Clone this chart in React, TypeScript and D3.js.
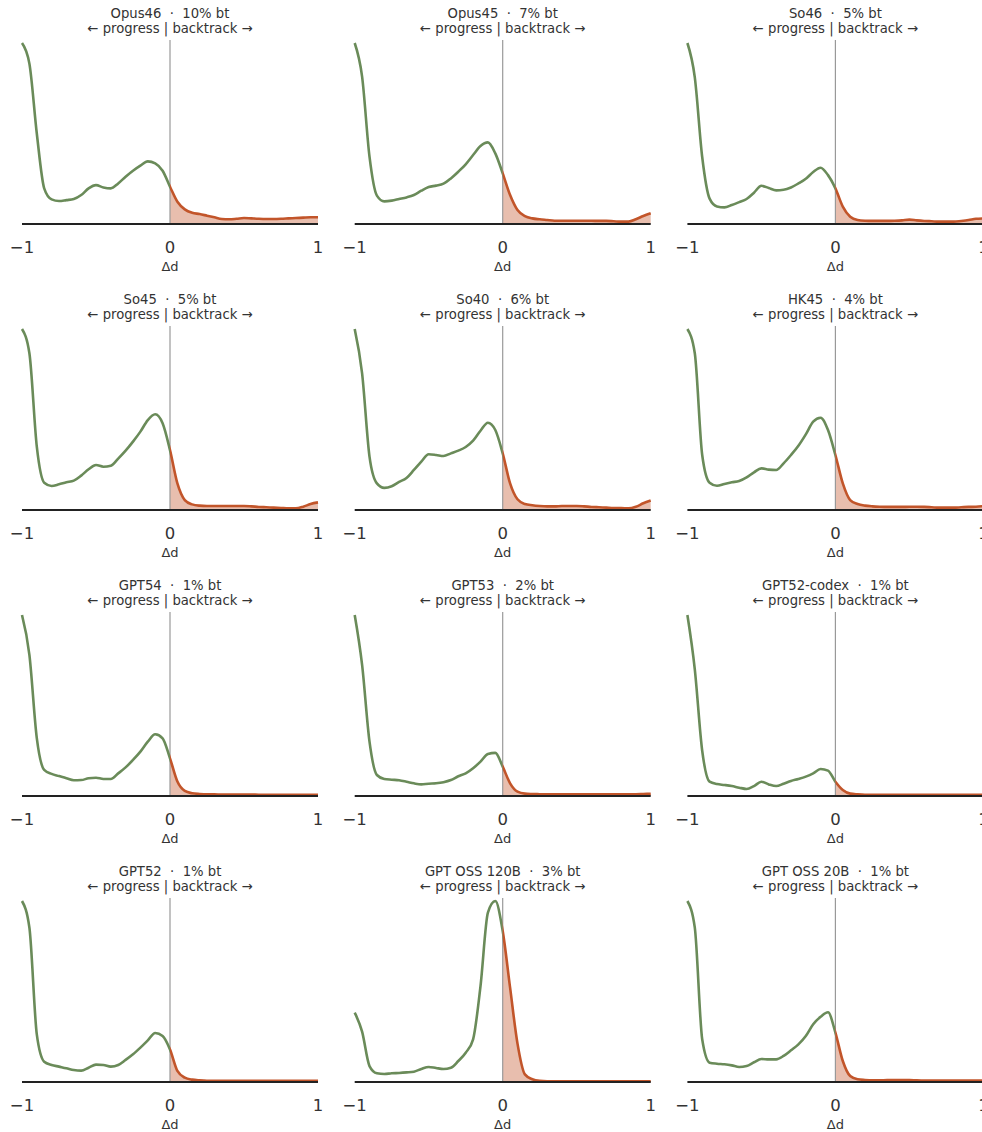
import * as d3 from 'd3';

// Δd grid the densities were read on
const DX = [
  -1, -0.95, -0.9, -0.85, -0.8, -0.75, -0.7, -0.65, -0.6, -0.55, -0.5,
  -0.45, -0.4, -0.35, -0.3, -0.25, -0.2, -0.15, -0.1, -0.05, 0,
  0.05, 0.1, 0.15, 0.2, 0.25, 0.3, 0.35, 0.4, 0.45, 0.5,
  0.55, 0.6, 0.65, 0.7, 0.75, 0.8, 0.85, 0.9, 0.95, 1,
];

const MODELS = [
  'Opus46', 'Opus45', 'So46',
  'So45', 'So40', 'HK45',
  'GPT54', 'GPT53', 'GPT52-codex',
  'GPT52', 'GPT OSS 120B', 'GPT OSS 20B',
];

const BACKTRACK_PCT = [10, 7, 5, 5, 6, 4, 1, 2, 1, 1, 3, 1];

// normalized density (peak = 1) per model
const OPUS46 = [1.0, 0.886, 0.5, 0.197, 0.136, 0.127, 0.132, 0.138, 0.16, 0.197, 0.215, 0.202, 0.197, 0.224, 0.261, 0.294, 0.322, 0.346, 0.335, 0.294, 0.206, 0.123, 0.081, 0.062, 0.055, 0.046, 0.037, 0.028, 0.026, 0.029, 0.033, 0.031, 0.029, 0.028, 0.028, 0.029, 0.031, 0.033, 0.035, 0.037, 0.037];
const OPUS45 = [1.0, 0.814, 0.372, 0.157, 0.125, 0.129, 0.138, 0.147, 0.16, 0.184, 0.204, 0.212, 0.223, 0.252, 0.289, 0.33, 0.381, 0.431, 0.451, 0.39, 0.28, 0.16, 0.077, 0.044, 0.031, 0.026, 0.022, 0.018, 0.018, 0.018, 0.018, 0.018, 0.018, 0.017, 0.017, 0.015, 0.013, 0.013, 0.026, 0.044, 0.059];
const SO46 = [1.0, 0.81, 0.37, 0.14, 0.097, 0.092, 0.105, 0.121, 0.138, 0.173, 0.211, 0.199, 0.186, 0.189, 0.202, 0.224, 0.25, 0.287, 0.311, 0.27, 0.197, 0.096, 0.04, 0.022, 0.018, 0.017, 0.017, 0.017, 0.018, 0.02, 0.024, 0.02, 0.017, 0.015, 0.013, 0.013, 0.013, 0.017, 0.022, 0.029, 0.031];
const SO45 = [1.0, 0.866, 0.35, 0.151, 0.133, 0.142, 0.153, 0.162, 0.19, 0.225, 0.249, 0.239, 0.245, 0.284, 0.328, 0.378, 0.433, 0.497, 0.529, 0.479, 0.331, 0.147, 0.055, 0.031, 0.024, 0.022, 0.022, 0.022, 0.022, 0.022, 0.022, 0.02, 0.017, 0.015, 0.013, 0.011, 0.009, 0.009, 0.018, 0.033, 0.042];
const SO40 = [1.0, 0.755, 0.295, 0.147, 0.122, 0.131, 0.155, 0.177, 0.221, 0.267, 0.308, 0.304, 0.298, 0.313, 0.328, 0.348, 0.383, 0.438, 0.482, 0.442, 0.313, 0.147, 0.059, 0.033, 0.026, 0.022, 0.02, 0.02, 0.022, 0.022, 0.022, 0.02, 0.017, 0.015, 0.013, 0.011, 0.011, 0.009, 0.018, 0.037, 0.052];
const HK45 = [1.0, 0.866, 0.304, 0.151, 0.134, 0.144, 0.153, 0.16, 0.18, 0.208, 0.23, 0.223, 0.221, 0.258, 0.304, 0.355, 0.418, 0.488, 0.51, 0.442, 0.304, 0.147, 0.055, 0.033, 0.024, 0.02, 0.018, 0.017, 0.017, 0.017, 0.018, 0.018, 0.017, 0.015, 0.013, 0.013, 0.013, 0.015, 0.017, 0.018, 0.022];
const GPT54 = [1.0, 0.78, 0.32, 0.144, 0.122, 0.11, 0.098, 0.087, 0.088, 0.098, 0.101, 0.094, 0.094, 0.125, 0.158, 0.199, 0.245, 0.3, 0.341, 0.319, 0.208, 0.08, 0.028, 0.015, 0.011, 0.009, 0.009, 0.008, 0.008, 0.008, 0.008, 0.008, 0.007, 0.007, 0.007, 0.007, 0.007, 0.007, 0.007, 0.007, 0.007];
const GPT53 = [1.0, 0.724, 0.3, 0.116, 0.094, 0.09, 0.087, 0.079, 0.07, 0.064, 0.068, 0.07, 0.076, 0.088, 0.109, 0.125, 0.153, 0.19, 0.232, 0.238, 0.162, 0.07, 0.024, 0.013, 0.011, 0.01, 0.009, 0.009, 0.009, 0.009, 0.009, 0.009, 0.009, 0.009, 0.009, 0.009, 0.009, 0.01, 0.01, 0.011, 0.012];
const GPT52_CODEX = [1.0, 0.7, 0.25, 0.079, 0.066, 0.061, 0.055, 0.046, 0.039, 0.055, 0.079, 0.064, 0.055, 0.068, 0.083, 0.094, 0.107, 0.125, 0.149, 0.14, 0.079, 0.033, 0.013, 0.009, 0.007, 0.007, 0.007, 0.006, 0.006, 0.006, 0.006, 0.006, 0.006, 0.006, 0.006, 0.006, 0.006, 0.006, 0.006, 0.006, 0.006];
const GPT52 = [1.0, 0.853, 0.263, 0.112, 0.094, 0.085, 0.076, 0.066, 0.063, 0.079, 0.096, 0.094, 0.085, 0.094, 0.122, 0.153, 0.19, 0.23, 0.271, 0.254, 0.18, 0.061, 0.024, 0.013, 0.009, 0.007, 0.007, 0.007, 0.006, 0.006, 0.006, 0.006, 0.006, 0.006, 0.006, 0.006, 0.006, 0.006, 0.006, 0.006, 0.006];
const GPT_OSS_120B = [0.383, 0.278, 0.088, 0.048, 0.044, 0.048, 0.05, 0.053, 0.057, 0.072, 0.083, 0.077, 0.072, 0.079, 0.116, 0.162, 0.236, 0.53, 0.936, 1.0, 0.834, 0.521, 0.212, 0.042, 0.015, 0.006, 0.004, 0.004, 0.004, 0.004, 0.004, 0.004, 0.004, 0.004, 0.004, 0.004, 0.004, 0.004, 0.004, 0.004, 0.004];
const GPT_OSS_20B = [1.0, 0.853, 0.236, 0.107, 0.101, 0.098, 0.092, 0.083, 0.088, 0.109, 0.127, 0.125, 0.125, 0.144, 0.175, 0.208, 0.254, 0.319, 0.36, 0.385, 0.273, 0.116, 0.033, 0.015, 0.011, 0.009, 0.009, 0.011, 0.011, 0.011, 0.011, 0.009, 0.008, 0.008, 0.008, 0.008, 0.008, 0.008, 0.008, 0.008, 0.008];

const DENSITIES = [
  OPUS46, OPUS45, SO46,
  SO45, SO40, HK45,
  GPT54, GPT53, GPT52_CODEX,
  GPT52, GPT_OSS_120B, GPT_OSS_20B,
];

const X_TICKS = [-1, 0, 1];
const X_TICK_LABELS = ['\u22121', '0', '1'];

const GREEN = '#6a8b59';
const ORANGE = '#c2552a';
const FONT = '"DejaVu Sans", Lato, sans-serif';

const W = 982;
const H = 1132;
const COL_STEP = 332.7;
const ROW_STEP = 286;
const LEFT = 22;
const TOP = 43;
const PW = 296;
const PH = 181;

export default function App() {
  const x = d3.scaleLinear().domain([-1, 1]).range([0, PW]);
  const y = d3.scaleLinear().domain([0, 1]).range([PH, 0]);

  const line = d3
    .line<number>()
    .x((_, i) => x(DX[i]))
    .y((d) => y(d))
    .curve(d3.curveMonotoneX);

  const area = d3
    .area<number>()
    .x((_, i) => x(DX[i]))
    .y0(y(0))
    .y1((d) => y(d))
    .curve(d3.curveMonotoneX);

  return (
    <svg
      width={W}
      height={H}
      style={{ position: 'absolute', left: 0, top: 0, background: '#fff' }}
      fontFamily={FONT}
    >
      <defs>
        <clipPath id="neg" clipPathUnits="userSpaceOnUse">
          <rect x={-10} y={-10} width={x(0) + 10} height={PH + 20} />
        </clipPath>
        <clipPath id="pos" clipPathUnits="userSpaceOnUse">
          <rect x={x(0)} y={-10} width={PW} height={PH + 20} />
        </clipPath>
      </defs>
      {MODELS.map((name, k) => {
        const col = k % 3;
        const row = Math.floor(k / 3);
        const vals = DENSITIES[k];
        return (
          <g
            key={name}
            transform={`translate(${LEFT + col * COL_STEP},${TOP + row * ROW_STEP})`}
          >
            <text
              x={x(0)}
              y={-25}
              textAnchor="middle"
              fontSize={13.2}
              fill="#333"
              style={{ whiteSpace: 'pre' }}
            >
              {`${name}  ·  ${BACKTRACK_PCT[k]}% bt`}
            </text>
            <text x={x(0)} y={-10} textAnchor="middle" fontSize={13.2} fill="#333">
              ← progress | backtrack →
            </text>
            <path
              d={area(vals) ?? ''}
              fill={ORANGE}
              fillOpacity={0.38}
              clipPath="url(#pos)"
            />
            <line
              x1={x(0)}
              x2={x(0)}
              y1={-3}
              y2={PH}
              stroke="#999"
              strokeWidth={1.2}
            />
            <path
              d={line(vals) ?? ''}
              fill="none"
              stroke={GREEN}
              strokeWidth={2.6}
              strokeLinejoin="round"
              clipPath="url(#neg)"
            />
            <path
              d={line(vals) ?? ''}
              fill="none"
              stroke={ORANGE}
              strokeWidth={2.6}
              strokeLinejoin="round"
              clipPath="url(#pos)"
            />
            <line x1={x(-1)} x2={x(1)} y1={PH} y2={PH} stroke="#222" strokeWidth={2} />
            {X_TICKS.map((t, i) => (
              <text
                key={t}
                x={x(t)}
                y={PH + 29}
                textAnchor="middle"
                fontSize={16.5}
                fill="#333"
              >
                {X_TICK_LABELS[i]}
              </text>
            ))}
            <text x={x(0)} y={PH + 47} textAnchor="middle" fontSize={13} fill="#333">
              Δd
            </text>
          </g>
        );
      })}
    </svg>
  );
}
